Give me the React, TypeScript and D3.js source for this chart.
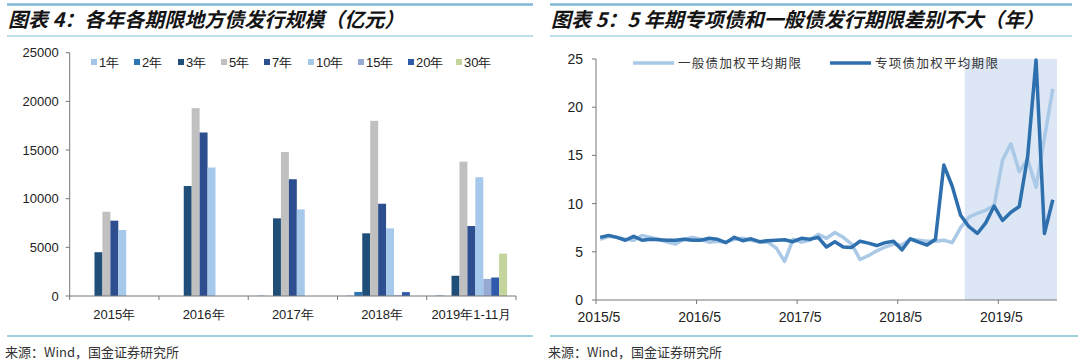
import React from "react";
import * as d3 from "d3";

// ---------- Left chart data ----------
const years = ["2015年", "2016年", "2017年", "2018年", "2019年1-11月"];
const tenors = ["1年", "2年", "3年", "5年", "7年", "10年", "15年", "20年", "30年"];
const tenorColors = ["#a3c6e8", "#2e75b6", "#1f4e79", "#c0c0c0", "#2d4f8f", "#a6c8ea", "#95a9d3", "#2f5aac", "#c3d59d"];
// values per tenor (亿元), one per year
const v1 = [0, 0, 60, 60, 100];
const v2 = [0, 0, 0, 420, 0];
const v3 = [4500, 11300, 7980, 6440, 2080];
const v5 = [8660, 19300, 14800, 18000, 13800];
const v7 = [7740, 16800, 12000, 9480, 7190];
const v10 = [6780, 13200, 8900, 6950, 12200];
const v15 = [0, 0, 0, 80, 1750];
const v20 = [0, 0, 0, 400, 1900];
const v30 = [0, 0, 0, 0, 4350];
const tenorValues = [v1, v2, v3, v5, v7, v10, v15, v20, v30];
const leftTicks = [0, 5000, 10000, 15000, 20000, 25000];

// ---------- Right chart data (monthly, 2015/5 – 2019/11) ----------
const xTickLabels = ["2015/5", "2016/5", "2017/5", "2018/5", "2019/5"];
const generalTerm = [
  6.3, 6.6, 6.5, 6.3, 6.2, 6.7, 6.5, 6.3, 6.0, 5.8,
  6.3, 6.5, 6.3, 6.0, 6.1, 6.0, 6.3, 6.4, 6.2, 6.0,
  6.0, 5.4, 4.0, 6.3, 6.0, 6.2, 6.8, 6.4, 7.0, 6.5,
  5.8, 4.2, 4.6, 5.1, 5.5, 5.8, 5.7, 6.3, 6.2, 6.1,
  6.1, 6.2, 5.95, 7.5, 8.6, 9.0, 9.3, 9.8, 14.5, 16.2,
  13.3, 14.6, 11.7, 16.8, 21.9,
];
const specialTerm = [
  6.5, 6.7, 6.5, 6.2, 6.6, 6.2, 6.3, 6.25, 6.2, 6.2,
  6.3, 6.2, 6.2, 6.4, 6.3, 5.95, 6.5, 6.15, 6.35, 6.05,
  6.15, 6.2, 6.25, 6.05, 6.4, 6.3, 6.5, 5.5, 6.05, 5.5,
  5.45, 6.1, 5.9, 5.65, 5.95, 6.1, 5.2, 6.35, 6.0, 5.7,
  6.3, 14.0, 11.8, 8.8, 7.6, 6.9, 8.0, 9.75, 8.25, 9.1,
  9.7, 14.9, 24.9, 6.9, 10.4,
];
const rightTicks = [0, 5, 10, 15, 20, 25];
const seriesNames = ["一般债加权平均期限", "专项债加权平均期限"];

const CJK = "'Noto Sans CJK SC', sans-serif";
const LAT = "'Liberation Sans', Arial, sans-serif";

function Header({ x1, x2, title }: { x1: number; x2: number; title: string }) {
  return (
    <g>
      <line x1={x1} x2={x2} y1={4.5} y2={4.5} stroke="#7fb9d9" strokeWidth={2.5} />
      <line x1={x1} x2={x2} y1={36} y2={36} stroke="#a8d2e6" strokeWidth={1.5} />
      <text x={x1 + 1} y={27} fontFamily={CJK} fontSize={20} fontWeight="bold" fontStyle="italic" fill="#141414">
        {title}
      </text>
    </g>
  );
}

function Footer({ x1, x2 }: { x1: number; x2: number }) {
  return (
    <g>
      <line x1={x1} x2={x2} y1={336} y2={336} stroke="#7cc3d6" strokeWidth={1.5} />
      <text x={x1 - 2} y={357} fontFamily={CJK} fontSize={13} fill="#333">
        来源：Wind，国金证券研究所
      </text>
    </g>
  );
}

function LeftChart() {
  const x0 = 69.7, x1 = 516;
  const y = d3.scaleLinear().domain([0, 25000]).range([296, 52.7]);
  const gx = d3.scaleBand<string>().domain(years).range([x0, x1]).padding(0);
  const gw = gx.bandwidth();
  const pad = gw * 0.1;
  const sx = d3.scaleBand<string>().domain(tenors).range([pad, gw - pad]).padding(0);
  const legendX = [91, 134, 178, 221, 264, 308, 358, 408, 456];
  return (
    <g>
      {tenors.map((t, si) =>
        years.map((yr, yi) => {
          const v = tenorValues[si][yi];
          if (!v) return null;
          return (
            <rect key={t + yr} x={(gx(yr) as number) + (sx(t) as number)} width={sx.bandwidth()}
              y={y(v)} height={y(0) - y(v)} fill={tenorColors[si]} />
          );
        })
      )}
      <line x1={x0} x2={x0} y1={y(25000)} y2={y(0)} stroke="#777" strokeWidth={1} />
      <line x1={x0} x2={x1} y1={y(0)} y2={y(0)} stroke="#777" strokeWidth={1} />
      {leftTicks.map((t) => (
        <g key={t}>
          <line x1={x0 - 4} x2={x0} y1={y(t)} y2={y(t)} stroke="#777" />
          <text x={x0 - 11} y={y(t) + 4.5} textAnchor="end" fontFamily={LAT} fontSize={13} fill="#222">{t}</text>
        </g>
      ))}
      {[...years.map((yr) => gx(yr) as number), x1].map((bx, i) => (
        <line key={i} x1={bx} x2={bx} y1={y(0)} y2={y(0) + 4} stroke="#777" />
      ))}
      {years.map((yr) => (
        <text key={yr} x={(gx(yr) as number) + gw / 2} y={319} textAnchor="middle" fontFamily={LAT} fontSize={13} fill="#222">{yr}</text>
      ))}
      {tenors.map((t, i) => (
        <g key={t}>
          <rect x={legendX[i]} y={59} width={6} height={6} fill={tenorColors[i]} />
          <text x={legendX[i] + 8} y={66.5} fontFamily={LAT} fontSize={13} fill="#222">{t}</text>
        </g>
      ))}
    </g>
  );
}

function RightChart() {
  const x0 = 596, x1 = 1057;
  const x = d3.scaleLinear().domain([0, 55]).range([x0, x1]);
  const y = d3.scaleLinear().domain([0, 25]).range([300, 59]);
  const line = d3.line<number>().x((_, i) => x(i + 0.5)).y((d) => y(d));
  return (
    <g>
      <rect x={x(44)} y={y(25)} width={x(55) - x(44)} height={y(0) - y(25)} fill="#dce6f4" />
      <path d={line(generalTerm) || ""} fill="none" stroke="#a9c9e7" strokeWidth={3.5} strokeLinejoin="round" />
      <path d={line(specialTerm) || ""} fill="none" stroke="#2e6fae" strokeWidth={3.5} strokeLinejoin="round" />
      <line x1={x0} x2={x0} y1={y(25)} y2={y(0)} stroke="#777" />
      <line x1={x0} x2={x1} y1={y(0)} y2={y(0)} stroke="#777" />
      {rightTicks.map((t) => (
        <g key={t}>
          <line x1={x0 - 4} x2={x0} y1={y(t)} y2={y(t)} stroke="#777" />
          <text x={x0 - 13} y={y(t) + 5} textAnchor="end" fontFamily={LAT} fontSize={14} fill="#222">{t}</text>
        </g>
      ))}
      {xTickLabels.map((lab, i) => (
        <g key={lab}>
          <line x1={x(i * 12)} x2={x(i * 12)} y1={y(0)} y2={y(0) + 4} stroke="#777" />
          <text x={x(i * 12) + 3} y={322} textAnchor="middle" fontFamily={LAT} fontSize={14} fill="#222">{lab}</text>
        </g>
      ))}
      <line x1={633} x2={674} y1={63} y2={63} stroke="#a9c9e7" strokeWidth={3.5} />
      <text x={678} y={67.5} fontFamily={CJK} fontSize={12.5} letterSpacing={1.3} fill="#333">{seriesNames[0]}</text>
      <line x1={830} x2={871} y1={63} y2={63} stroke="#2e6fae" strokeWidth={3.5} />
      <text x={875} y={67.5} fontFamily={CJK} fontSize={12.5} letterSpacing={1.3} fill="#333">{seriesNames[1]}</text>
    </g>
  );
}

export default function App() {
  return (
    <svg width={1080} height={360} style={{ position: "absolute", left: 0, top: 0, background: "#fff" }}>
      <rect width={1080} height={360} fill="#fff" />
      <Header x1={7} x2={533} title="图表 4：各年各期限地方债发行规模（亿元）" />
      <Header x1={550} x2={1072} title="图表 5：5 年期专项债和一般债发行期限差别不大（年）" />
      <LeftChart />
      <RightChart />
      <Footer x1={7} x2={533} />
      <Footer x1={550} x2={1078} />
    </svg>
  );
}
